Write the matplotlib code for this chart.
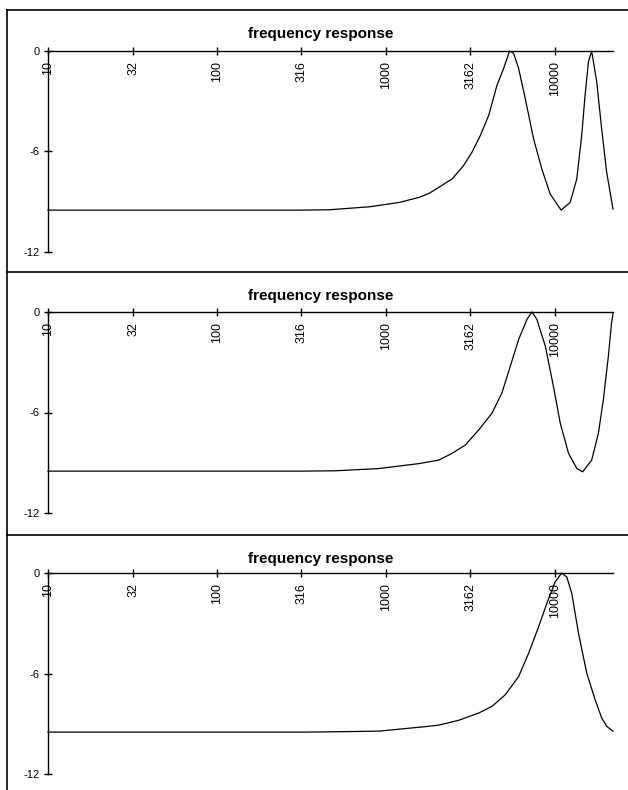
import matplotlib
matplotlib.use("Agg")
import matplotlib.pyplot as plt
from matplotlib.lines import Line2D

plt.rcParams['font.family'] = ['Liberation Sans', 'DejaVu Sans']

# frequency (Hz) and gain (dB)
freq_1 = [10, 100, 316, 460, 800, 1200, 1570, 1800, 2055, 2460, 2880, 3230, 3620,
          4055, 4540, 4970, 5390, 5690, 6095, 6670, 7470, 8360, 9370, 10870, 12300,
          13460, 14400, 15070, 15780, 16490, 17660, 18890, 20230, 22050]
db_1 = [-9.5, -9.5, -9.5, -9.48, -9.3, -9.04, -8.74, -8.5, -8.14, -7.64, -6.84,
        -6.04, -5.04, -3.84, -2.04, -1.04, 0.0, -0.14, -1.04, -2.84, -5.24, -7.04,
        -8.54, -9.5, -9.04, -7.64, -5.04, -2.64, -0.64, 0.0, -1.84, -4.64, -7.24,
        -9.44]

freq_2 = [10, 100, 316, 500, 900, 1570, 2055, 2460, 2950, 3540, 4240, 4850, 5440,
          6095, 6830, 7300, 7815, 8770, 9790, 10750, 12030, 13460, 14590, 16490,
          18070, 19330, 20700, 21630, 22050]
db_2 = [-9.5, -9.5, -9.5, -9.48, -9.35, -9.05, -8.84, -8.44, -7.94, -7.04, -6.04,
        -4.84, -3.24, -1.64, -0.44, 0.0, -0.44, -2.04, -4.44, -6.64, -8.44, -9.34,
        -9.54, -8.84, -7.24, -5.24, -2.64, -0.64, -0.1]

freq_3 = [10, 100, 316, 500, 910, 1800, 2055, 2700, 3540, 4240, 5080, 6095, 6985,
          8000, 8950, 10030, 10960, 11750, 12580, 13780, 15420, 17270, 18900, 20230,
          22050]
db_3 = [-9.5, -9.5, -9.5, -9.48, -9.44, -9.15, -9.08, -8.79, -8.36, -7.96, -7.27,
        -6.18, -4.79, -3.21, -1.82, -0.53, 0.0, -0.24, -1.23, -3.6, -5.98, -7.56,
        -8.65, -9.15, -9.45]

tick_freqs = [10, 32, 100, 316, 1000, 3162, 10000]
tick_labels = ['10', '32', '100', '316', '1000', '3162', '10000']
db_ticks = [0, -6, -12]
db_labels = ['0', '-6', '-12']

W, H = 628, 790
fig = plt.figure(figsize=(W / 100, H / 100), dpi=100)

panels = [(freq_1, db_1), (freq_2, db_2), (freq_3, db_3)]
panel_tops = [10, 272, 535]
axis_tops = [51, 312, 573]

# panel frames
fig.add_artist(Line2D([7 / W, 7 / W], [1 - 10 / H, 0], color='black', lw=1.2,
                      transform=fig.transFigure))
for top in panel_tops:
    fig.add_artist(Line2D([7 / W, 1], [1 - top / H, 1 - top / H], color='black',
                          lw=1.2, transform=fig.transFigure))

for (f, d), ptop, atop in zip(panels, panel_tops, axis_tops):
    ax = fig.add_axes([48 / W, 1 - (atop + 201) / H, 565 / W, 201 / H])
    ax.plot(f, d, color='black', lw=0.9, clip_on=False)
    ax.set_xscale('log')
    ax.set_xlim(10, 22050)
    ax.set_ylim(-12, 0)
    ax.set_facecolor('none')

    ax.spines['top'].set_visible(False)
    ax.spines['right'].set_visible(False)
    ax.spines['bottom'].set_position(('data', 0))
    for s in ['bottom', 'left']:
        ax.spines[s].set_linewidth(1.0)

    ax.set_xticks(tick_freqs)
    ax.set_xticklabels(tick_labels, rotation=90, fontsize=9)
    ax.xaxis.set_minor_locator(plt.NullLocator())
    ax.tick_params(axis='x', direction='inout', length=6, width=1, pad=4)

    ax.set_yticks(db_ticks)
    ax.set_yticklabels(db_labels, fontsize=8)
    ax.tick_params(axis='y', direction='inout', length=6, width=1, pad=3)

    fig.text(321 / W, 1 - (ptop + 24) / H, 'frequency response', ha='center',
             va='center', fontsize=11, fontweight='bold')

fig.savefig('out.png', dpi=100)
